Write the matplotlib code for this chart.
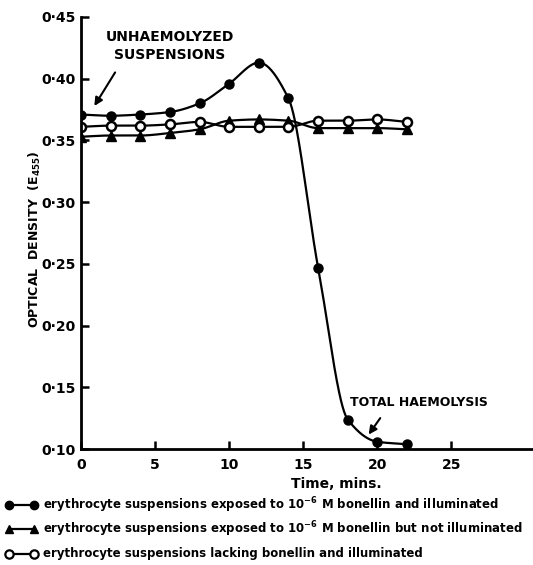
import numpy as np
import matplotlib
matplotlib.use("Agg")
import matplotlib.pyplot as plt
from matplotlib.lines import Line2D

time_min = [0, 2, 4, 6, 8, 10, 12, 14, 16, 18, 20, 22]
illuminated = [0.371, 0.370, 0.371, 0.373, 0.380, 0.396, 0.413, 0.384, 0.247, 0.124, 0.106, 0.104]
not_illuminated = [0.353, 0.354, 0.354, 0.356, 0.359, 0.366, 0.367, 0.366, 0.360, 0.360, 0.360, 0.359]
no_bonellin = [0.361, 0.362, 0.362, 0.363, 0.365, 0.361, 0.361, 0.361, 0.366, 0.366, 0.367, 0.365]

y_ticks = [0.10, 0.15, 0.20, 0.25, 0.30, 0.35, 0.40, 0.45]
y_tick_labels = ["0·10", "0·15", "0·20", "0·25", "0·30", "0·35", "0·40", "0·45"]
x_ticks = [0, 5, 10, 15, 20, 25]

legend_texts = [
    "erythrocyte suspensions exposed to 10$^{-6}$ M bonellin and illuminated",
    "erythrocyte suspensions exposed to 10$^{-6}$ M bonellin but not illuminated",
    "erythrocyte suspensions lacking bonellin and illuminated",
]


def pchip(x, y, xs):
    # monotone cubic, only used to draw the smooth pen line
    x = np.asarray(x, float)
    y = np.asarray(y, float)
    h = np.diff(x)
    d = np.diff(y) / h
    m = np.zeros_like(y)
    for k in range(1, len(x) - 1):
        if d[k - 1] * d[k] > 0:
            w1 = 2 * h[k] + h[k - 1]
            w2 = h[k] + 2 * h[k - 1]
            m[k] = (w1 + w2) / (w1 / d[k - 1] + w2 / d[k])
    m[0] = d[0]
    m[-1] = d[-1]
    idx = np.clip(np.searchsorted(x, xs) - 1, 0, len(x) - 2)
    t = (xs - x[idx]) / h[idx]
    h00 = 2 * t**3 - 3 * t**2 + 1
    h10 = t**3 - 2 * t**2 + t
    h01 = -2 * t**3 + 3 * t**2
    h11 = t**3 - t**2
    return h00 * y[idx] + h10 * h[idx] * m[idx] + h01 * y[idx + 1] + h11 * h[idx] * m[idx + 1]


def main():
    plt.rcParams['font.family'] = ['DejaVu Sans']
    plt.rcParams['font.weight'] = 'bold'
    plt.rcParams['mathtext.default'] = 'bf'

    fig = plt.figure(figsize=(5.33, 5.65), dpi=100)
    ax = fig.add_axes([0.152, 0.205, 0.848, 0.765])

    xs = np.linspace(time_min[0], time_min[-1], 400)
    lw = 1.6
    ax.plot(xs, pchip(time_min, illuminated, xs), color='k', lw=lw)
    ax.plot(time_min, illuminated, 'o', color='k', ms=6.5)
    ax.plot(xs, pchip(time_min, not_illuminated, xs), color='k', lw=lw)
    ax.plot(time_min, not_illuminated, '^', color='k', ms=6.5)
    ax.plot(xs, pchip(time_min, no_bonellin, xs), color='k', lw=lw)
    ax.plot(time_min, no_bonellin, 'o', color='k', mfc='white', mew=1.8, ms=6.5)

    ax.set_xlim(0, 30.5)
    ax.set_ylim(0.10, 0.45)
    ax.spines['top'].set_visible(False)
    ax.spines['right'].set_visible(False)
    ax.spines['left'].set_linewidth(2)
    ax.spines['bottom'].set_linewidth(2)
    ax.set_yticks(y_ticks)
    ax.set_yticklabels(y_tick_labels)
    ax.set_xticks(x_ticks)
    ax.tick_params(direction='in', width=1.8, length=6, labelsize=10, pad=4)
    ax.tick_params(axis='x', pad=6)
    for lab in ax.get_xticklabels() + ax.get_yticklabels():
        lab.set_fontweight('bold')

    ax.set_xlabel("Time, mins.", fontsize=10, fontweight='bold')
    ax.xaxis.set_label_coords(0.564, -0.064)
    ax.set_ylabel("OPTICAL  DENSITY  (E$_{455}$)", fontsize=9, fontweight='bold')
    ax.yaxis.set_label_coords(-0.085, 0.486)

    ax.text(6.0, 0.4265, "UNHAEMOLYZED\nSUSPENSIONS", ha='center', va='center',
            fontsize=10, fontweight='bold', linespacing=1.4)
    ax.annotate("", xy=(0.8, 0.376), xytext=(2.4, 0.407),
                arrowprops=dict(arrowstyle='-|>', color='k', lw=1.5, mutation_scale=12))
    ax.text(22.8, 0.1375, "TOTAL HAEMOLYSIS", ha='center', va='center',
            fontsize=9, fontweight='bold')
    ax.annotate("", xy=(19.3, 0.110), xytext=(20.3, 0.127),
                arrowprops=dict(arrowstyle='-|>', color='k', lw=1.5, mutation_scale=12))

    # legend rows drawn below the axes, like the printed key
    row_y = [1 - 505 / 565, 1 - 529 / 565, 1 - 554 / 565]
    marker_kw = [
        dict(marker='o', color='k'),
        dict(marker='^', color='k'),
        dict(marker='o', color='k', mfc='white', mew=1.6),
    ]
    for yy, kw, txt in zip(row_y, marker_kw, legend_texts):
        fig.add_artist(Line2D([9 / 533, 34 / 533], [yy, yy], transform=fig.transFigure,
                              lw=1.6, ms=6, **kw))
        fig.text(43 / 533, yy, txt, fontsize=8.5, fontweight='bold', va='center', ha='left')

    fig.savefig("out.png", dpi=100)


if __name__ == '__main__':
    main()
